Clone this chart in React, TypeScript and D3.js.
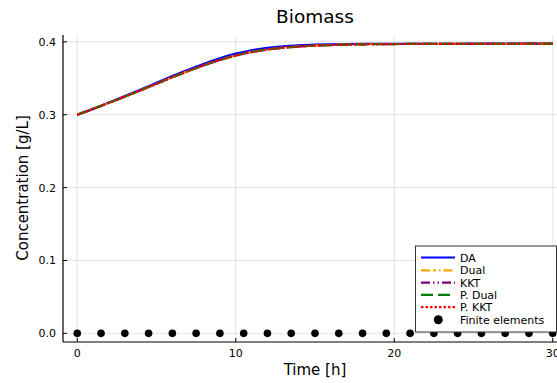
import React from "react";
import * as d3 from "d3";

const W = 557;
const H = 383;

const timeGrid = [0, 1, 2, 3, 4, 5, 6, 7, 8, 9, 10, 11, 12, 13, 14, 15, 16, 17, 18, 20, 22, 24, 27, 30];
const daValues = [0.3, 0.308, 0.3167, 0.3255, 0.3346, 0.3438, 0.353, 0.3618, 0.3700, 0.3775, 0.3838, 0.3885, 0.3918, 0.3940, 0.3953, 0.3961, 0.3966, 0.3969, 0.3971, 0.3973, 0.3974, 0.3974, 0.3975, 0.3975];
const dualValues = [0.3, 0.308, 0.3163, 0.3248, 0.3336, 0.3425, 0.3514, 0.3600, 0.3680, 0.3752, 0.3813, 0.3860, 0.3895, 0.3920, 0.3937, 0.3948, 0.3956, 0.3962, 0.3966, 0.3970, 0.3972, 0.3973, 0.3974, 0.3975];
const kktValues = [0.3, 0.308, 0.3163, 0.3248, 0.3336, 0.3425, 0.3514, 0.3600, 0.3680, 0.3752, 0.3813, 0.3860, 0.3895, 0.3920, 0.3937, 0.3948, 0.3956, 0.3962, 0.3966, 0.3970, 0.3972, 0.3973, 0.3974, 0.3975];
const pDualValues = [0.3, 0.308, 0.3163, 0.3248, 0.3335, 0.3424, 0.3513, 0.3599, 0.3679, 0.3751, 0.3812, 0.3859, 0.3894, 0.3919, 0.3936, 0.3948, 0.3956, 0.3962, 0.3966, 0.3970, 0.3972, 0.3973, 0.3974, 0.3975];
const pKktValues = [0.3, 0.308, 0.3163, 0.3248, 0.3335, 0.3424, 0.3513, 0.3599, 0.3679, 0.3751, 0.3812, 0.3859, 0.3894, 0.3919, 0.3936, 0.3948, 0.3956, 0.3962, 0.3966, 0.3970, 0.3972, 0.3973, 0.3974, 0.3975];

const feTimes = [0, 1.5, 3, 4.5, 6, 7.5, 9, 10.5, 12, 13.5, 15, 16.5, 18, 19.5, 21, 22.5, 24, 25.5, 27, 28.5, 30];
const feValues = [0, 0, 0, 0, 0, 0, 0, 0, 0, 0, 0, 0, 0, 0, 0, 0, 0, 0, 0, 0, 0];

const xTicks = [0, 10, 20, 30];
const yTicks = [0, 0.1, 0.2, 0.3, 0.4];

const seriesNames = ["DA", "Dual", "KKT", "P. Dual", "P. KKT"];
const seriesColors = ["#0000ff", "#ffa500", "#800080", "#008000", "#ff0000"];
const seriesDash = ["", "9,3,3,3,1.5,3", "9,3,1.5,3,1.5,3", "12,5", "2.5,2"];
const seriesData = [daValues, dualValues, kktValues, pDualValues, pKktValues];

const FONT = "DejaVu Sans, sans-serif";

export default function App() {
  const left = 63, right = 567, top = 35, bottom = 342;
  const x = d3.scaleLinear().domain([-0.9, 30.9]).range([left, right]);
  const y = d3.scaleLinear().domain([-0.0119, 0.4094]).range([bottom, top]);

  const line = d3
    .line<number>()
    .x((_, i) => x(timeGrid[i]))
    .y((d) => y(d))
    .curve(d3.curveMonotoneX);

  const legX = 415.5, legY = 246, legW = 141, legH = 86;
  const rowY = [257.5, 270.3, 282.6, 294.8, 307.2, 319.8];

  return (
    <svg
      width={W}
      height={H}
      style={{ position: "fixed", left: 0, top: 0, background: "#fff" }}
      fontFamily={FONT}
    >
      <rect x={0} y={0} width={W} height={H} fill="#fff" />
      <defs>
        <clipPath id="plotclip">
          <rect x={left} y={top} width={right - left} height={bottom - top} />
        </clipPath>
      </defs>
      {/* grid */}
      {xTicks.map((t) => (
        <line key={"gx" + t} x1={x(t)} x2={x(t)} y1={top} y2={bottom} stroke="#000" strokeOpacity={0.1} strokeWidth={1} />
      ))}
      {yTicks.map((t) => (
        <line key={"gy" + t} x1={left} x2={right} y1={y(t)} y2={y(t)} stroke="#000" strokeOpacity={0.1} strokeWidth={1} />
      ))}
      {/* axes */}
      <line x1={left} x2={left} y1={top} y2={bottom} stroke="#000" strokeWidth={1.2} />
      <line x1={left} x2={right} y1={bottom} y2={bottom} stroke="#000" strokeWidth={1.2} />
      {xTicks.map((t) => (
        <g key={"tx" + t}>
          <line x1={x(t)} x2={x(t)} y1={bottom} y2={bottom - 4} stroke="#000" strokeWidth={1} />
          <text x={x(t)} y={357} fontSize={11} textAnchor="middle" fill="#000">
            {t}
          </text>
        </g>
      ))}
      {yTicks.map((t) => (
        <g key={"ty" + t}>
          <line x1={left} x2={left + 4} y1={y(t)} y2={y(t)} stroke="#000" strokeWidth={1} />
          <text x={56} y={y(t) + 4} fontSize={11} textAnchor="end" fill="#000">
            {t.toFixed(1)}
          </text>
        </g>
      ))}
      {/* labels */}
      <text x={315} y={23} fontSize={18.5} textAnchor="middle" fill="#000">
        Biomass
      </text>
      <text x={315} y={375} fontSize={15} textAnchor="middle" fill="#000">
        Time [h]
      </text>
      <text
        transform={`translate(27.5,188) rotate(-90)`}
        fontSize={15}
        textAnchor="middle"
        fill="#000"
      >
        Concentration [g/L]
      </text>
      {/* series */}
      <g clipPath="url(#plotclip)">
        {seriesData.map((vals, i) => (
          <path
            key={seriesNames[i]}
            d={line(vals) || ""}
            fill="none"
            stroke={seriesColors[i]}
            strokeWidth={2.2}
            strokeDasharray={seriesDash[i] || undefined}
          />
        ))}
      </g>
      {feTimes.map((t, i) => (
        <circle key={"fe" + i} cx={x(t)} cy={y(feValues[i])} r={3.8} fill="#000" />
      ))}
      {/* legend */}
      <rect x={legX} y={legY} width={legW} height={legH} fill="#fff" stroke="#333" strokeWidth={1} />
      {seriesNames.map((n, i) => (
        <g key={"leg" + n}>
          <line
            x1={421}
            x2={455}
            y1={rowY[i]}
            y2={rowY[i]}
            stroke={seriesColors[i]}
            strokeWidth={2.2}
            strokeDasharray={seriesDash[i] || undefined}
          />
          <text x={460} y={rowY[i] + 4} fontSize={11} fill="#000">
            {n}
          </text>
        </g>
      ))}
      <circle cx={438.3} cy={rowY[5]} r={4.5} fill="#000" />
      <text x={460} y={rowY[5] + 4} fontSize={11} fill="#000">
        Finite elements
      </text>
    </svg>
  );
}
